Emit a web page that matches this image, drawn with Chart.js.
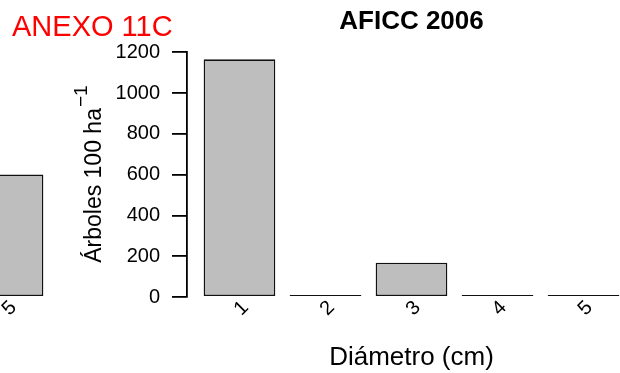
<!DOCTYPE html>
<html>
<head>
<meta charset="utf-8">
<script src="https://cdn.jsdelivr.net/npm/chart.js@4.4.1/dist/chart.umd.min.js"></script>
<style>
  html, body { margin: 0; padding: 0; background: #fff; }
  #wrap { position: relative; width: 620px; height: 373px; overflow: hidden; }
  #chartLeft { position: absolute; left: -576px; top: 0; }
  #chartRight { position: absolute; left: 0; top: 0; }
  #anexo { position: absolute; left: 12px; top: 12px; font: 29px/1 "Liberation Sans", Arial, sans-serif; color: #ff0000; }
</style>
</head>
<body>
<div id="wrap">
  <canvas id="chartLeft" width="640" height="373"></canvas>
  <canvas id="chartRight" width="640" height="373"></canvas>
  <div id="anexo">ANEXO 11C</div>
</div>
<script>
// diameter classes
const categories = ['1', '2', '3', '4', '5'];
// AFICC 2006, trees per 100 ha
const values = [1165, 0, 168, 0, 0];
// previous panel, only its last bar is visible
const leftValues = [null, null, null, null, 600];
const yTicks = [0, 200, 400, 600, 800, 1000, 1200];
const yLabel = 'Árboles 100 ha';
const yLabelSup = '−1';

const FONT = "'Liberation Sans', Arial, sans-serif";
Chart.defaults.font.family = FONT;
Chart.defaults.color = '#000';

// y axis title with a real superscript, like R's plotmath
const yTitlePlugin = {
  id: 'yTitle',
  afterDraw(chart) {
    const ctx = chart.ctx;
    const y = chart.scales.y;
    const mid = (y.top + y.bottom) / 2;
    ctx.save();
    ctx.translate(y.left + 101, mid);
    ctx.rotate(-Math.PI / 2);
    ctx.fillStyle = '#000';
    ctx.textBaseline = 'alphabetic';
    ctx.font = '23px ' + FONT;
    const w1 = ctx.measureText(yLabel).width;
    ctx.font = '19px ' + FONT;
    const w2 = ctx.measureText(yLabelSup).width;
    const start = -(w1 + w2) / 2;
    ctx.font = '23px ' + FONT;
    ctx.fillText(yLabel, start, 0);
    ctx.font = '19px ' + FONT;
    ctx.fillText(yLabelSup, start + w1 + 1, -14);
    ctx.restore();
  }
};

function getChart(id, title, data) {
  const config = {
    type: 'bar',
    data: {
      datasets: [{
        data: data.map((v, i) => ({ x: i, y: v })),
        backgroundColor: '#bebebe',
        borderColor: '#111',
        borderWidth: 1.6,
        borderSkipped: false,
        barPercentage: 1 / 1.2,
        categoryPercentage: 1,
        minBarLength: 2
      }]
    },
    options: {
      responsive: false,
      animation: false,
      layout: { padding: { left: 0, right: 4, top: 0, bottom: 0 } },
      plugins: {
        legend: { display: false },
        tooltip: { enabled: false },
        title: {
          display: true,
          text: title,
          fullSize: false,
          font: { size: 26, weight: 'bold' },
          color: '#000',
          padding: { top: 6, bottom: 15 }
        }
      },
      scales: {
        x: {
          type: 'linear',
          offset: false,
          min: -0.61,
          max: 4.61,
          afterBuildTicks: s => { s.ticks = categories.map((c, i) => ({ value: i })); },
          afterFit: s => { s.height = 76; },
          ticks: {
            autoSkip: false,
            minRotation: 45,
            maxRotation: 45,
            labelOffset: 6,
            padding: -9,
            font: { size: 20 },
            callback: (v, i) => categories[i]
          },
          grid: { display: false, offset: false },
          border: { display: false },
          title: {
            display: true,
            text: 'Diámetro (cm)',
            font: { size: 26 },
            padding: { top: 0, bottom: 0 }
          }
        },
        y: {
          min: 0,
          max: 1200,
          afterBuildTicks: s => { s.ticks = yTicks.map(v => ({ value: v })); },
          afterFit: s => { s.width = 187; },
          ticks: { font: { size: 20 }, padding: 12, callback: v => String(v) },
          grid: {
            display: true,
            drawOnChartArea: false,
            drawTicks: true,
            tickLength: 15,
            color: '#000',
            lineWidth: 1.8
          },
          border: { display: true, color: '#000', width: 1.8 },
          title: { display: false }
        }
      }
    },
    plugins: [yTitlePlugin]
  };
  return new Chart(document.getElementById(id), config);
}

chartLeft = getChart('chartLeft', '', leftValues);
chartRight = getChart('chartRight', 'AFICC 2006', values);
</script>
</body>
</html>
